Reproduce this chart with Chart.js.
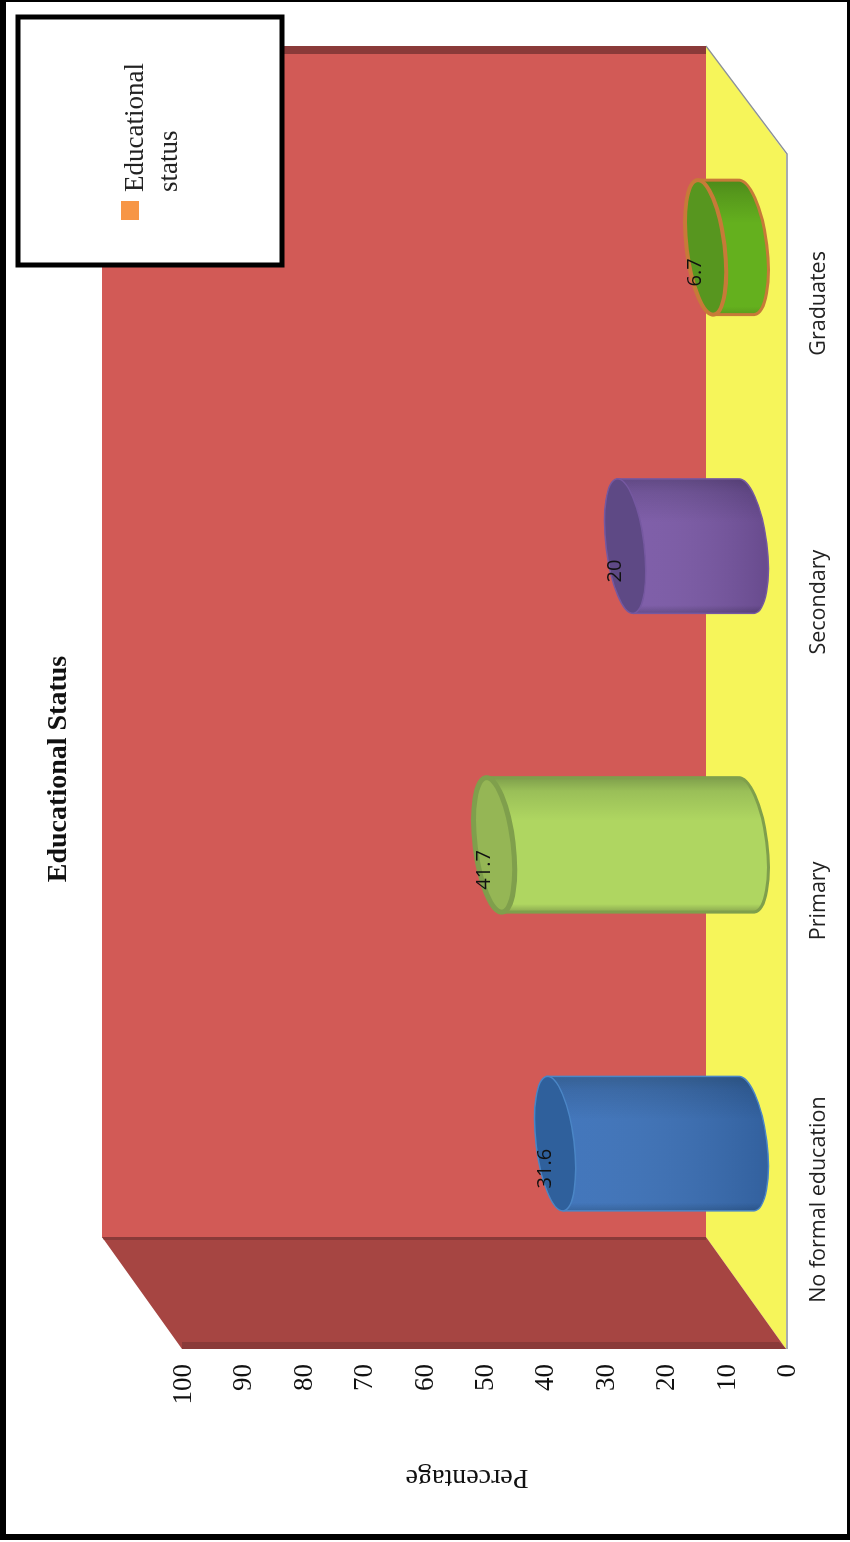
<!DOCTYPE html>
<html>
<head>
<meta charset="utf-8">
<title>Educational Status</title>
<style>
    html, body { margin: 0; padding: 0; background: #fff; }
    #page { position: relative; width: 850px; height: 1542px; overflow: hidden; }
    /* the whole figure is lying on its side in the original */
    #turned {
        position: absolute; left: 0; top: 0; width: 1542px; height: 850px;
        transform-origin: 0 0; transform: translate(0, 1542px) rotate(-90deg);
    }
</style>
<script src="https://cdn.jsdelivr.net/npm/chart.js@4/dist/chart.umd.min.js"></script>
</head>
<body>
<div id="page"><div id="turned"><canvas id="chart" width="1542" height="850"></canvas></div></div>
<script>
const categories = ['No formal education', 'Primary', 'Secondary', 'Graduates'];
const values = [31.6, 41.7, 20, 6.7];
const valueTicks = [0, 10, 20, 30, 40, 50, 60, 70, 80, 90, 100];
const legendLines = ['Educational', 'status'];
const chartTitle = 'Educational Status';
const axisTitle = 'Percentage';

// body colours across the cylinder: near edge, light, shaded, far edge
const bodyColors = [
    ['#2f5f9c', '#3b71b9', '#3364a4', '#2d5a90'],
    ['#8aa850', '#afd661', '#9abf58', '#7f9f4c'],
    ['#5f4585', '#7a58a6', '#6a4d93', '#5b4280'],
    ['#5a9c1c', '#64b01e', '#56981c', '#4c8a1a']
];
const baseShade = [0.14, 0, 0.14, 0];
const capColors = ['#2f609c', '#95b655', '#5e4985', '#57961f'];
const rimColors = ['#4b86c6', '#7f9f4c', '#7558a0', '#c77a38'];
const rimWidths = [1.5, 5, 1.5, 4];

const SERIF = '"Liberation Serif", serif';
const SANS = '"Open Sans", sans-serif';

// oblique of the 3D box, and where the cylinders stand in it
const DEPTH_X = 112, DEPTH_Y = 80, BACK_TRIM = 4;
const MID_X = DEPTH_X / 2, MID_Y = DEPTH_Y / 2;
const TILT = -7 * Math.PI / 180;
const CAP_MINOR = 19;

function poly(ctx, pts, fill) {
    ctx.beginPath();
    pts.forEach(function (p, i) { i ? ctx.lineTo(p[0], p[1]) : ctx.moveTo(p[0], p[1]); });
    ctx.closePath();
    ctx.fillStyle = fill;
    ctx.fill();
}

// --- Walls and floor ---

const boxPlugin = {
    id: 'box',
    beforeDatasetsDraw(chart) {
        const ctx = chart.ctx;
        const L = chart.scales.x.left, R = chart.scales.x.right;
        const T = chart.scales.y.top, B = chart.scales.y.bottom;
        const backR = R + DEPTH_X - BACK_TRIM;

        // floor
        poly(ctx, [[L, B], [R, B], [backR, B - DEPTH_Y], [L + DEPTH_X, B - DEPTH_Y]], '#f6f55a');
        ctx.strokeStyle = '#8b9097';
        ctx.lineWidth = 1.5;
        ctx.beginPath();
        ctx.moveTo(L, B + 1); ctx.lineTo(R, B + 1); ctx.lineTo(backR, B - DEPTH_Y);
        ctx.stroke();

        // back wall
        poly(ctx, [[L + DEPTH_X, T - DEPTH_Y], [backR, T - DEPTH_Y], [backR, B - DEPTH_Y], [L + DEPTH_X, B - DEPTH_Y]], '#d25a56');
        poly(ctx, [[backR, T - DEPTH_Y], [backR - 8, T - DEPTH_Y], [backR - 8, B - DEPTH_Y], [backR, B - DEPTH_Y]], '#8a3a39');

        // side wall
        poly(ctx, [[L, T], [L + DEPTH_X, T - DEPTH_Y], [L + DEPTH_X, B - DEPTH_Y], [L, B]], '#a64542');
        poly(ctx, [[L, T], [L + 7, T], [L + 7, B - 7], [L, B]], '#8a3a39');
        poly(ctx, [[L + DEPTH_X, T - DEPTH_Y], [L + DEPTH_X - 3, T - DEPTH_Y + 2], [L + DEPTH_X - 3, B - DEPTH_Y], [L + DEPTH_X, B - DEPTH_Y]], '#8a3a39');
    }
};

// --- Cylinders, drawn on the bar elements Chart.js laid out ---

const cylinderPlugin = {
    id: 'cylinder',
    afterDatasetsDraw(chart) {
        const ctx = chart.ctx;
        const bars = chart.getDatasetMeta(0).data;

        bars.forEach(function (bar, i) {
            const cx = bar.x + MID_X;
            const r = bar.width / 2;
            const a = r / Math.cos(TILT);
            const topY = bar.y - MID_Y;
            const baseY = bar.base - MID_Y;
            const lean = a * Math.sin(TILT);

            const across = ctx.createLinearGradient(cx - r, 0, cx + r, 0);
            across.addColorStop(0, bodyColors[i][0]);
            across.addColorStop(0.06, bodyColors[i][1]);
            across.addColorStop(0.68, bodyColors[i][1]);
            across.addColorStop(0.9, bodyColors[i][2]);
            across.addColorStop(1, bodyColors[i][3]);

            ctx.save();
            ctx.beginPath();
            ctx.moveTo(cx - r, topY - lean);
            ctx.lineTo(cx - r, baseY - lean);
            ctx.ellipse(cx, baseY, a, CAP_MINOR + 2, TILT, Math.PI, 0, true);
            ctx.lineTo(cx + r, topY + lean);
            ctx.closePath();
            ctx.fillStyle = across;
            ctx.fill();

            // blue and purple darken towards the floor
            if (baseShade[i] > 0) {
                const along = ctx.createLinearGradient(0, topY, 0, baseY + CAP_MINOR);
                along.addColorStop(0, 'rgba(255,255,255,0.04)');
                along.addColorStop(1, 'rgba(0,0,0,' + baseShade[i] + ')');
                ctx.fillStyle = along;
                ctx.fill();
            }

            ctx.strokeStyle = rimColors[i];
            ctx.lineWidth = Math.min(rimWidths[i], 3);
            ctx.stroke();

            // open top
            ctx.beginPath();
            ctx.ellipse(cx, topY, a, CAP_MINOR, TILT, 0, Math.PI * 2);
            ctx.fillStyle = capColors[i];
            ctx.fill();
            ctx.strokeStyle = rimColors[i];
            ctx.lineWidth = rimWidths[i];
            ctx.stroke();
            ctx.restore();

            // value label sits on the cap
            ctx.save();
            ctx.font = '20px ' + SANS;
            ctx.fillStyle = '#111';
            ctx.textAlign = 'center';
            ctx.textBaseline = 'middle';
            ctx.fillText(String(values[i]), cx - 25, topY - 10);
            ctx.restore();
        });
    },

    // --- Titles, legend box and outer frame go on top of everything ---

    afterDraw(chart) {
        const ctx = chart.ctx;
        ctx.save();
        ctx.textBaseline = 'middle';
        ctx.textAlign = 'center';
        ctx.fillStyle = '#111';
        ctx.font = 'bold 28px ' + SERIF;
        ctx.fillText(chartTitle, 773, 59);

        ctx.save();
        ctx.translate(65, 467);
        ctx.rotate(-Math.PI / 2);
        ctx.font = '28px ' + SERIF;
        ctx.fillText(axisTitle, 0, 0);
        ctx.restore();

        ctx.fillStyle = '#fff';
        ctx.fillRect(1277, 18, 248, 264);
        ctx.strokeStyle = '#000';
        ctx.lineWidth = 5;
        ctx.strokeRect(1277, 18, 248, 264);

        ctx.fillStyle = '#f79646';
        ctx.fillRect(1322, 121, 19, 18);
        ctx.fillStyle = '#222';
        ctx.font = '27px ' + SERIF;
        ctx.textAlign = 'left';
        ctx.textBaseline = 'alphabetic';
        ctx.fillText(legendLines[0], 1350, 143);
        ctx.fillText(legendLines[1], 1350, 177);

        // page border, heavier on two sides as in the scan
        ctx.fillStyle = '#000';
        ctx.fillRect(2, 0, 1540, 6);
        ctx.fillRect(2, 0, 6, 850);
        ctx.fillRect(2, 847, 1540, 3);
        ctx.fillRect(1540, 0, 2, 850);
        ctx.restore();
    }
};

new Chart(document.getElementById('chart'), {
    type: 'bar',
    data: {
        labels: categories,
        datasets: [{
            label: legendLines.join(' '),
            data: values,
            backgroundColor: 'rgba(0,0,0,0)',
            barPercentage: 0.45,
            categoryPercentage: 1
        }]
    },
    options: {
        responsive: false,
        animation: false,
        devicePixelRatio: 1,
        layout: { padding: { left: 0, right: 154, top: 182, bottom: 0 } },
        plugins: {
            legend: { display: false },
            tooltip: { enabled: false }
        },
        scales: {
            x: {
                grid: { display: false, drawTicks: false },
                border: { display: false },
                afterFit(s) { s.height = 64; },
                ticks: { color: '#222', font: { family: SANS, size: 21.5 }, padding: 20, maxRotation: 0 }
            },
            y: {
                min: 0,
                max: 100,
                afterBuildTicks(s) { s.ticks = valueTicks.map(v => ({ value: v })); },
                afterFit(s) { s.width = 193; },
                grid: { display: false, drawTicks: false },
                border: { display: false },
                ticks: { color: '#111', font: { family: SERIF, size: 27 }, padding: 15, labelOffset: 2 }
            }
        }
    },
    plugins: [boxPlugin, cylinderPlugin]
});
</script>
</body>
</html>
